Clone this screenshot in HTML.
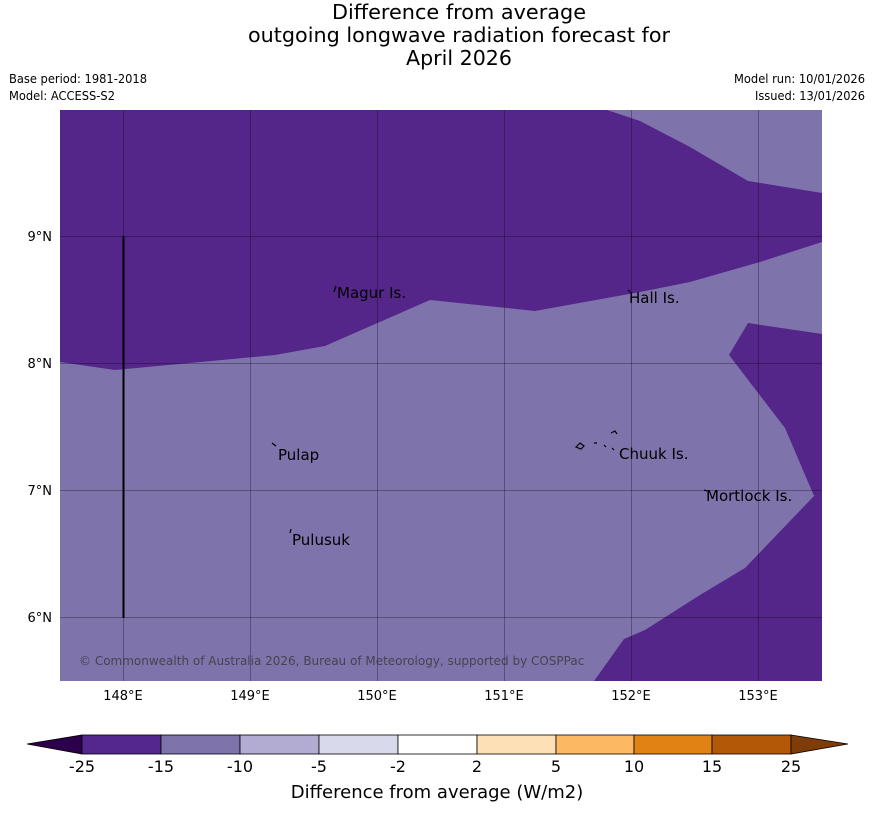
<!DOCTYPE html>
<html><head><meta charset="utf-8"><style>
body{margin:0;background:#fff}
svg{display:block;font-family:"DejaVu Sans","Liberation Sans",sans-serif}
</style></head><body>
<svg width="873" height="816" viewBox="0 0 873 816">
<g font-size="20" text-anchor="middle" fill="#000">
<text x="459" y="19" textLength="254" lengthAdjust="spacingAndGlyphs">Difference from average</text>
<text x="459" y="42" textLength="422" lengthAdjust="spacingAndGlyphs">outgoing longwave radiation forecast for</text>
<text x="459" y="65" textLength="106" lengthAdjust="spacingAndGlyphs">April 2026</text>
</g>
<g font-size="12" fill="#000">
<text x="9" y="83" textLength="138" lengthAdjust="spacingAndGlyphs">Base period: 1981-2018</text>
<text x="9" y="100" textLength="106" lengthAdjust="spacingAndGlyphs">Model: ACCESS-S2</text>
<text x="865" y="83" text-anchor="end" textLength="131" lengthAdjust="spacingAndGlyphs">Model run: 10/01/2026</text>
<text x="865" y="100" text-anchor="end" textLength="110" lengthAdjust="spacingAndGlyphs">Issued: 13/01/2026</text>
</g>
<g>
<rect x="60" y="110" width="762" height="571" fill="#7f73ab"/>
<polygon fill="#54268a" points="60,110 607,110 640,121 690,147 748,181 822,193 822,242 760,262 690,282 640,292 535,311 430,300 325,346 275,355 115,370 60,362"/>
<polygon fill="#54268a" points="748,323 822,334 822,490 814,496 785,428 752,385 729,355"/>
<polygon fill="#54268a" points="814,496 822,490 822,681 594,681 624,639 645,630 700,595 745,568"/>
<g stroke="#000" stroke-opacity="0.3" stroke-width="1">
<line x1="123.5" y1="110" x2="123.5" y2="681"/><line x1="250.5" y1="110" x2="250.5" y2="681"/><line x1="377.5" y1="110" x2="377.5" y2="681"/><line x1="504.5" y1="110" x2="504.5" y2="681"/><line x1="631.5" y1="110" x2="631.5" y2="681"/><line x1="758.5" y1="110" x2="758.5" y2="681"/>
<line x1="60" y1="236.5" x2="822" y2="236.5"/><line x1="60" y1="363.5" x2="822" y2="363.5"/><line x1="60" y1="490.5" x2="822" y2="490.5"/><line x1="60" y1="617.5" x2="822" y2="617.5"/>
</g>
<line x1="123.5" y1="236" x2="123.5" y2="618" stroke="#000" stroke-width="2"/>
<g font-size="15" fill="#000">
<text x="337" y="298">Magur Is.</text><text x="629" y="303">Hall Is.</text>
<text x="278" y="460">Pulap</text><text x="619" y="459">Chuuk Is.</text>
<text x="706" y="501">Mortlock Is.</text><text x="292" y="545">Pulusuk</text>
</g>
<g stroke="#000" fill="none" stroke-width="1.2">
<path d="M334,292 l2,-6"/><path d="M628,290 l2,2"/><path d="M272,443 l4,3"/><path d="M290,533 l1,-4"/><path d="M704,490 l3,1"/>
<path d="M576,447 l4,-4 l4,3 l-3,3 z M594,443 l3,0 M604,445 l2,2 M611,433 l4,-2 l2,3 M612,448 l2,2"/>
</g>
<text x="79" y="665" font-size="12" fill="#333" opacity="0.75">© Commonwealth of Australia 2026, Bureau of Meteorology, supported by COSPPac</text>
</g>
<g font-size="13" fill="#000" text-anchor="end">
<text x="52" y="241">9°N</text><text x="52" y="368">8°N</text><text x="52" y="495">7°N</text><text x="52" y="622">6°N</text>
</g>
<g font-size="13" fill="#000" text-anchor="middle">
<text x="123" y="700">148°E</text><text x="250" y="700">149°E</text><text x="377" y="700">150°E</text><text x="504" y="700">151°E</text><text x="631" y="700">152°E</text><text x="758" y="700">153°E</text>
</g>
<g stroke="#000" stroke-width="0.8">
<polygon points="27,744 82,735 82,754" fill="#2d004b"/>
<rect x="82" y="735" width="79" height="19" fill="#54278f"/>
<rect x="161" y="735" width="79" height="19" fill="#7f73ab"/>
<rect x="240" y="735" width="79" height="19" fill="#b2abd2"/>
<rect x="319" y="735" width="79" height="19" fill="#d8daeb"/>
<rect x="398" y="735" width="79" height="19" fill="#ffffff"/>
<rect x="477" y="735" width="79" height="19" fill="#fee0b6"/>
<rect x="556" y="735" width="78" height="19" fill="#fdb863"/>
<rect x="634" y="735" width="78" height="19" fill="#e08214"/>
<rect x="712" y="735" width="79" height="19" fill="#b35806"/>
<polygon points="791,735 848,744 791,754" fill="#7f3b08"/>
</g>
<g font-size="16" fill="#000" text-anchor="middle">
<text x="82" y="772">-25</text><text x="161" y="772">-15</text><text x="240" y="772">-10</text><text x="319" y="772">-5</text><text x="398" y="772">-2</text><text x="477" y="772">2</text><text x="556" y="772">5</text><text x="634" y="772">10</text><text x="712" y="772">15</text><text x="791" y="772">25</text>
</g>
<text x="437" y="798" font-size="18" text-anchor="middle">Difference from average (W/m2)</text>
</svg>
</body></html>
